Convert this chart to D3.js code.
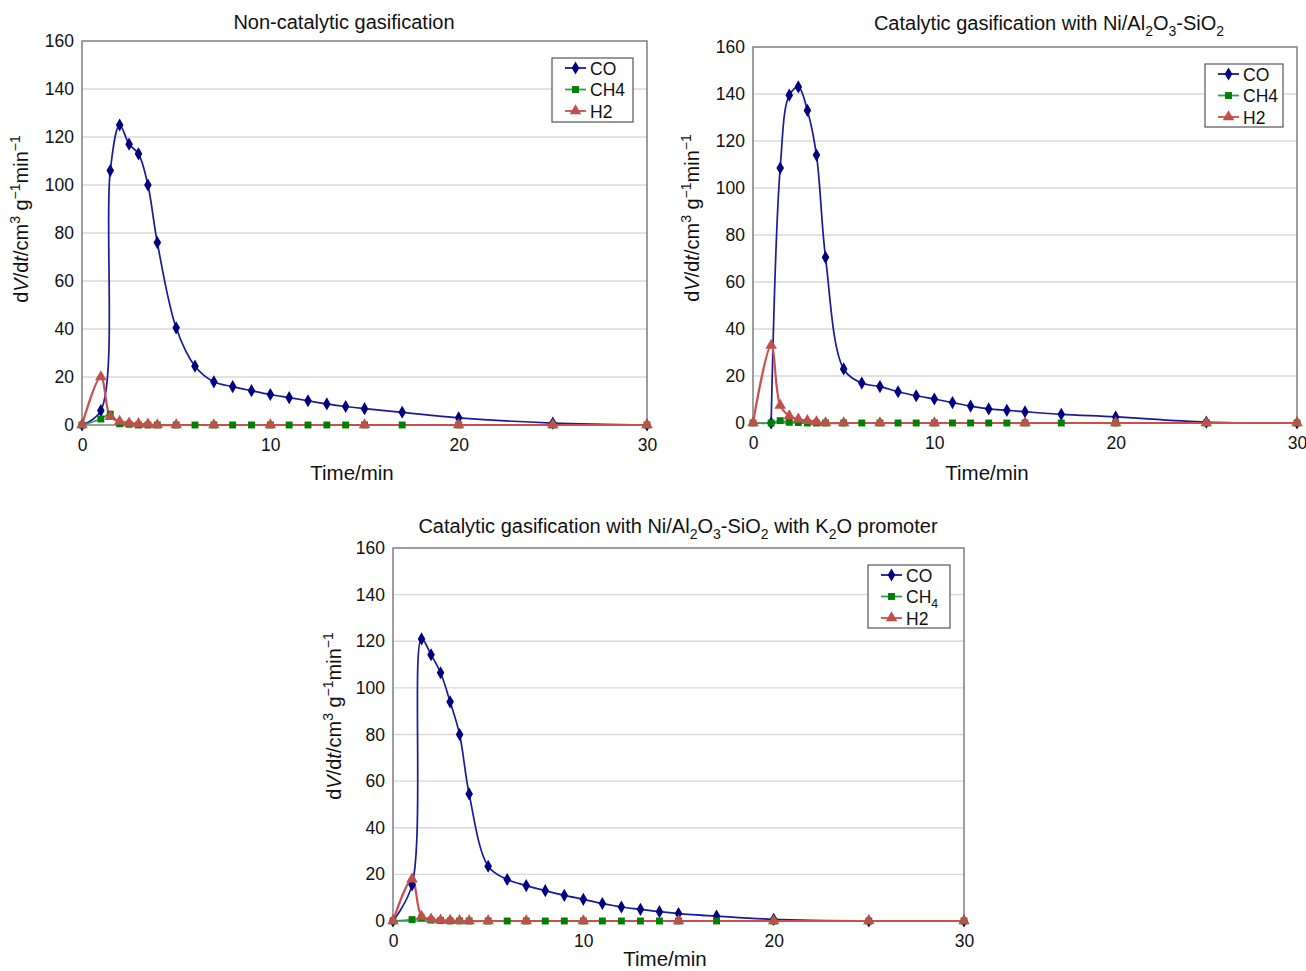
<!DOCTYPE html>
<html>
<head>
<meta charset="utf-8">
<script src="https://cdn.jsdelivr.net/npm/d3@7"></script>
<style>
  body { margin: 0; background: #fff; }
  svg { font-family: "Liberation Sans", Arial, sans-serif; }
</style>
</head>
<body>
<svg id="chart" width="1306" height="971"></svg>
<script>
// ---- data ----
const timesFull = [0, 1, 1.5, 2, 2.5, 3, 3.5, 4, 5, 6, 7, 8, 9, 10, 11, 12, 13, 14, 15, 17, 20, 25, 30];
const timesH2 = [0, 1, 1.5, 2, 2.5, 3, 3.5, 4, 5, 7, 10, 15, 20, 25, 30];
const timesCO2 = [1, 1.5, 2, 2.5, 3, 3.5, 4, 5, 6, 7, 8, 9, 10, 11, 12, 13, 14, 15, 17, 20, 25, 30];

// Non-catalytic
const co1  = [0, 6, 106, 125, 117, 113, 100, 76, 40.5, 24.5, 18, 16, 14.3, 12.7, 11.4, 10.1, 8.8, 7.7, 6.8, 5.3, 3, 0.8, 0];
const ch41 = [0, 2.5, 4.5, 0.5, 0.3, 0, 0, 0, 0, 0, 0, 0, 0, 0, 0, 0, 0, 0, 0, 0, 0, 0, 0];
const h21  = [0, 20, 3.5, 1.5, 0.8, 0.5, 0.3, 0, 0, 0, 0, 0, 0, 0, 0];

// Ni/Al2O3-SiO2
const co2  = [0, 108.5, 139.5, 143, 133, 114, 70.5, 23, 17, 15.5, 13.3, 11.6, 10.2, 8.7, 7.2, 6, 5.4, 4.8, 3.7, 2.6, 0.4, 0];
const ch42 = [0, 0, 1, 0.3, 0.2, 0, 0, 0, 0, 0, 0, 0, 0, 0, 0, 0, 0, 0, 0, 0, 0, 0, 0];
const h22  = [0, 33, 7.5, 3, 1.6, 1, 0.5, 0, 0, 0, 0, 0, 0, 0, 0];

// Ni/Al2O3-SiO2 + K2O
const co3  = [0, 15.5, 121, 114.2, 106.5, 94, 80, 54.5, 23.5, 17.8, 15.2, 13, 11, 9.3, 7.5, 6, 5, 4, 3.2, 2.1, 0.7, 0, 0];
const ch43 = [0, 0.6, 1.3, 0.4, 0.2, 0, 0, 0, 0, 0, 0, 0, 0, 0, 0, 0, 0, 0, 0, 0, 0, 0, 0];
const h23  = [0, 18, 2, 0.8, 0.4, 0.2, 0.1, 0, 0, 0, 0, 0, 0, 0, 0];

const yTicks = [0, 20, 40, 60, 80, 100, 120, 140, 160];
const xTicks = [0, 10, 20, 30];

const colors = { CO: "#000080", CH4: "#008000", H2: "#c0504d" };
const lineColors = { CO: "#1a1a9a", CH4: "#2f9e4a", H2: "#c9504d" };

const svg = d3.select("#chart");

// rich text helper: segments [text, mode] mode: "sub", "sup", "it"
function rich(sel, segs, size) {
  let shift = 0;
  segs.forEach(s => {
    const [t, mode] = typeof s === "string" ? [s, null] : s;
    const ts = sel.append("tspan").text(t);
    let target = 0;
    if (mode === "sub") target = size * 0.3;
    if (mode === "sup") target = -size * 0.4;
    ts.attr("dy", target - shift);
    shift = target;
    if (mode === "sub" || mode === "sup") ts.style("font-size", (size * 0.7) + "px");
    if (mode === "it") ts.style("font-style", "italic");
  });
}

const panels = [
  {
    title: ["Non-catalytic gasification"],
    titleX: 344, titleY: 29,
    xr: [82, 647], yr: [425, 41],
    xLabelX: 352, xLabelY: 480, yLabelX: 28, yLabelY: 219,
    legend: { x: 552, y: 58, w: 81, h: 64, ch4Sub: false },
    series: [
      { key: "CO", t: timesFull, v: co1 },
      { key: "CH4", t: timesFull, v: ch41 },
      { key: "H2", t: timesH2, v: h21 }
    ]
  },
  {
    title: ["Catalytic gasification with Ni/Al", ["2", "sub"], "O", ["3", "sub"], "-SiO", ["2", "sub"]],
    titleX: 1049, titleY: 30,
    xr: [753, 1297], yr: [423, 47],
    xLabelX: 987, xLabelY: 480, yLabelX: 699, yLabelY: 218,
    legend: { x: 1205, y: 64, w: 78, h: 63, ch4Sub: false },
    series: [
      { key: "CO", t: timesCO2, v: co2 },
      { key: "CH4", t: timesFull, v: ch42 },
      { key: "H2", t: timesH2, v: h22 }
    ]
  },
  {
    title: ["Catalytic gasification with Ni/Al", ["2", "sub"], "O", ["3", "sub"], "-SiO", ["2", "sub"], " with K", ["2", "sub"], "O promoter"],
    titleX: 678, titleY: 533,
    xr: [393, 964], yr: [921, 548],
    xLabelX: 665, xLabelY: 966, yLabelX: 341, yLabelY: 716,
    legend: { x: 868, y: 565, w: 82, h: 63, ch4Sub: true },
    series: [
      { key: "CO", t: timesFull, v: co3 },
      { key: "CH4", t: timesFull, v: ch43 },
      { key: "H2", t: timesH2, v: h23 }
    ]
  }
];

const symbols = {
  CO: d3.symbol().type(d3.symbolDiamond).size(50),
  CH4: d3.symbol().type(d3.symbolSquare).size(48),
  H2: d3.symbol().type(d3.symbolTriangle).size(58)
};

panels.forEach(p => {
  const x = d3.scaleLinear().domain([0, 30]).range(p.xr);
  const y = d3.scaleLinear().domain([0, 160]).range(p.yr);
  const g = svg.append("g");

  // gridlines
  g.selectAll(".grid").data(yTicks.slice(1, -1)).enter().append("line")
    .attr("x1", p.xr[0]).attr("x2", p.xr[1])
    .attr("y1", d => y(d)).attr("y2", d => y(d))
    .attr("stroke", "#d9d9d9").attr("stroke-width", 1.3);

  // axes (labels only, like the Excel chart)
  const yAxis = g.append("g").attr("transform", `translate(${p.xr[0]},0)`)
    .call(d3.axisLeft(y).tickValues(yTicks).tickSize(0).tickPadding(8));
  const xAxis = g.append("g").attr("transform", `translate(0,${p.yr[0]})`)
    .call(d3.axisBottom(x).tickValues(xTicks).tickSize(0).tickPadding(14));
  [yAxis, xAxis].forEach(a => {
    a.select(".domain").remove();
    a.selectAll("text").style("font-size", "17.5px").attr("fill", "#111")
      .style("font-family", "Liberation Sans, Arial, sans-serif");
  });

  // plot frame
  g.append("rect")
    .attr("x", p.xr[0]).attr("y", p.yr[1])
    .attr("width", p.xr[1] - p.xr[0]).attr("height", p.yr[0] - p.yr[1])
    .attr("fill", "none").attr("stroke", "#7f7f7f").attr("stroke-width", 1.5);

  // series
  const line = d3.line().x(d => x(d[0])).y(d => y(d[1])).curve(d3.curveCatmullRom.alpha(0.5));
  p.series.forEach(s => {
    const pts = s.t.map((t, i) => [t, s.v[i]]);
    g.append("path").datum(pts).attr("d", line)
      .attr("fill", "none").attr("stroke", lineColors[s.key])
      .attr("stroke-width", s.key === "H2" ? 2.2 : 1.7);
  });
  p.series.forEach(s => {
    const pts = s.t.map((t, i) => [t, s.v[i]]);
    g.selectAll(null).data(pts).enter().append("path")
      .attr("d", symbols[s.key])
      .attr("transform", d => `translate(${x(d[0])},${y(d[1])})`)
      .attr("fill", colors[s.key]);
  });

  // title
  const tt = g.append("text").attr("x", p.titleX).attr("y", p.titleY)
    .attr("text-anchor", "middle").style("font-size", "20px").attr("fill", "#111");
  rich(tt, p.title, 20);

  // axis titles
  g.append("text").attr("x", p.xLabelX).attr("y", p.xLabelY)
    .attr("text-anchor", "middle").style("font-size", "20.5px").attr("fill", "#111")
    .text("Time/min");
  const yt = g.append("text")
    .attr("transform", `translate(${p.yLabelX},${p.yLabelY}) rotate(-90)`)
    .attr("text-anchor", "middle").style("font-size", "20px").attr("fill", "#111");
  rich(yt, ["d", ["V", "it"], "/d", ["t", "it"], "/cm", ["3", "sup"], " g", ["\u22121", "sup"], "min", ["\u22121", "sup"]], 20);

  // legend
  const L = p.legend;
  const lg = g.append("g").attr("transform", `translate(${L.x},${L.y})`);
  lg.append("rect").attr("width", L.w).attr("height", L.h)
    .attr("fill", "#fff").attr("stroke", "#555").attr("stroke-width", 1.2);
  const names = [["CO"], L.ch4Sub ? ["CH", ["4", "sub"]] : ["CH4"], ["H2"]];
  p.series.forEach((s, i) => {
    const cy = 10 + i * 21.5;
    lg.append("line").attr("x1", 13).attr("x2", 34).attr("y1", cy).attr("y2", cy)
      .attr("stroke", lineColors[s.key]).attr("stroke-width", 1.8);
    lg.append("path").attr("d", symbols[s.key])
      .attr("transform", `translate(23.5,${cy})`).attr("fill", colors[s.key]);
    const lt = lg.append("text").attr("x", 38).attr("y", cy + 6.5)
      .style("font-size", "17.5px").attr("fill", "#111");
    rich(lt, names[i], 17.5);
  });
});
</script>
</body>
</html>
